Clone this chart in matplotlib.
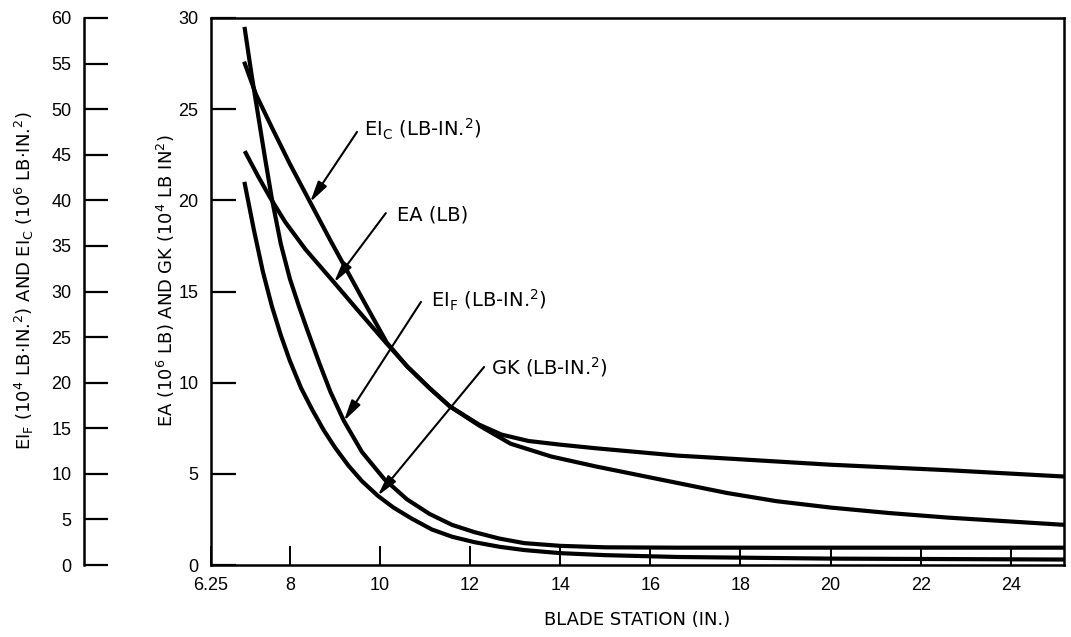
import matplotlib
matplotlib.use("Agg")
import matplotlib.pyplot as plt

# blade station (in.) and section properties
# EI_F and EI_C use the left scale (0-60), EA and GK the inner scale (0-30)
eif_x = [7.0, 7.15, 7.3, 7.45, 7.6, 7.8, 8.0, 8.2, 8.4, 8.65, 8.9, 9.2, 9.6, 10.1, 10.6,
         11.1, 11.6, 12.1, 12.65, 13.2, 14.0, 15.0, 16.6, 20.0, 25.2]
eif_y = [58.8, 53.8, 49.2, 44.6, 40.2, 35.2, 31.4, 28.4, 25.6, 22.2, 19.0, 15.8, 12.4, 9.4, 7.2,
         5.6, 4.4, 3.6, 2.9, 2.4, 2.1, 1.94, 1.9, 1.9, 1.9]

eic_x = [7.0, 7.25, 7.6, 8.0, 8.45, 8.9, 9.3, 9.7, 10.15, 10.6, 11.1, 11.55, 12.2, 12.9, 13.8,
         14.8, 15.7, 16.6, 17.7, 18.8, 20.0, 21.3, 22.6, 23.9, 25.2]
eic_y = [55.0, 51.6, 48.0, 44.0, 39.8, 35.6, 32.0, 28.4, 24.4, 21.8, 19.4, 17.4, 15.3, 13.3, 11.9,
         10.8, 9.9, 9.0, 7.9, 7.0, 6.3, 5.7, 5.2, 4.8, 4.4]

ea_x = [7.02, 7.3, 7.55, 7.9, 8.35, 8.98, 9.55, 10.13, 10.6, 11.1, 11.55, 12.2, 12.7, 13.3, 14.0,
        14.8, 16.6, 17.5, 20.0, 22.6, 25.2]
ea_y = [22.6, 21.3, 20.2, 18.8, 17.3, 15.5, 13.85, 12.2, 10.9, 9.7, 8.7, 7.7, 7.15, 6.8, 6.6,
        6.4, 6.0, 5.87, 5.5, 5.2, 4.85]

gk_x = [7.0, 7.2, 7.4, 7.6, 7.8, 8.0, 8.25, 8.5, 8.75, 9.0, 9.3, 9.6, 9.95, 10.3, 10.7,
        11.15, 11.6, 12.1, 12.65, 13.2, 14.0, 15.0, 16.6, 20.0, 25.2]
gk_y = [20.9, 18.4, 16.1, 14.2, 12.6, 11.2, 9.7, 8.5, 7.4, 6.45, 5.45, 4.6, 3.8, 3.15, 2.55,
        1.95, 1.55, 1.25, 1.0, 0.82, 0.65, 0.54, 0.44, 0.35, 0.3]

xticks = [6.25, 8, 10, 12, 14, 16, 18, 20, 22, 24]
xticklabels = ['6.25', '8', '10', '12', '14', '16', '18', '20', '22', '24']

plt.rcParams['font.family'] = ['Liberation Sans', 'DejaVu Sans']
plt.rcParams['mathtext.fontset'] = 'dejavusans'

fig = plt.figure(figsize=(10.71, 6.37), dpi=100)
ax = fig.add_axes([211 / 1071, 1 - 565 / 637, 853 / 1071, 547 / 637])
ax2 = ax.twinx()

lw = 3.0
ax.plot(ea_x, ea_y, color='black', lw=lw)
ax.plot(gk_x, gk_y, color='black', lw=lw)
ax2.plot(eif_x, eif_y, color='black', lw=lw)
ax2.plot(eic_x, eic_y, color='black', lw=lw)

ax.set_xlim(6.25, 25.18)
ax.set_ylim(0, 30)
ax2.set_ylim(0, 60)

for s in ax.spines.values():
    s.set_linewidth(1.8)

ax.set_xticks(xticks)
ax.set_xticklabels(xticklabels)
ax.set_yticks(range(0, 31, 5))
ax.tick_params(axis='y', direction='in', length=18, width=1.6, labelsize=13, pad=9)
ax.tick_params(axis='x', direction='in', length=14, width=1.4, labelsize=13, pad=9)

# outer scale on the left
ax2.spines['left'].set_position(('axes', -0.149))
ax2.spines['left'].set_visible(True)
ax2.spines['left'].set_linewidth(1.8)
for k in ['right', 'top', 'bottom']:
    ax2.spines[k].set_visible(False)
ax2.yaxis.set_ticks_position('left')
ax2.yaxis.set_label_position('left')
ax2.set_yticks(range(0, 61, 5))
ax2.tick_params(axis='y', direction='in', length=17, width=1.6, labelsize=13, pad=9)

lab = dict(fontsize=13, family='DejaVu Sans')
ax.set_xlabel('BLADE STATION (IN.)', labelpad=12, **lab)
ax.set_ylabel(r'EA (10$^6$ LB) AND GK (10$^4$ LB IN$^2$)', **lab)
ax.yaxis.set_label_coords(-0.04, 0.52)
ax2.set_ylabel(r'EI$_\mathrm{F}$ (10$^4$ LB$\cdot$IN.$^2$) AND EI$_\mathrm{C}$ (10$^6$ LB$\cdot$IN.$^2$)', **lab)
ax2.yaxis.set_label_coords(-0.205, 0.52)

arrow = dict(arrowstyle='-|>,head_length=0.9,head_width=0.22', color='black', lw=1.5,
             shrinkA=0, shrinkB=0, mutation_scale=14)
note = dict(fontsize=14, family='DejaVu Sans', va='center')

ax.annotate('', xy=(eic_x[4], eic_y[4]), xycoords=ax2.transData,
            xytext=(9.49, 23.75), textcoords=ax.transData, arrowprops=arrow)
ax.text(9.64, 23.9, r'EI$_\mathrm{C}$ (LB-IN.$^2$)', **note)

ax.annotate('', xy=(ea_x[5], ea_y[5]), xytext=(10.13, 19.3), arrowprops=arrow)
ax.text(10.38, 19.2, 'EA (LB)', **note)

ax.annotate('', xy=(eif_x[11], eif_y[11]), xycoords=ax2.transData,
            xytext=(10.91, 14.43), textcoords=ax.transData, arrowprops=arrow)
ax.text(11.13, 14.5, r'EI$_\mathrm{F}$ (LB-IN.$^2$)', **note)

ax.annotate('', xy=(gk_x[12], gk_y[12]), xytext=(12.31, 10.86), arrowprops=arrow)
ax.text(12.47, 10.86, r'GK (LB-IN.$^2$)', **note)

fig.savefig('out.png', dpi=100)
